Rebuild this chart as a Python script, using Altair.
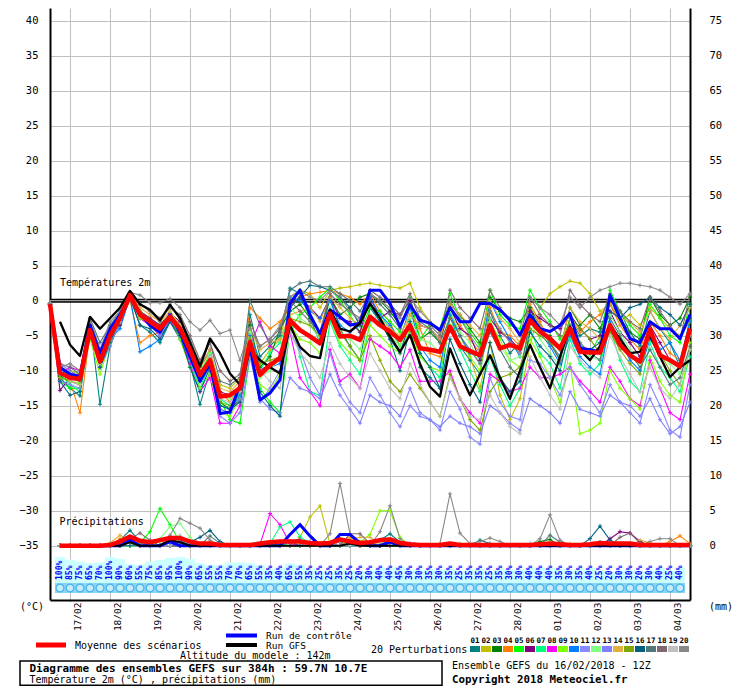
import altair as alt
import pandas as pd

FONT = "DejaVu Sans Mono"

# ---------------- axes / labels ----------------
STEP_H = 6
HOURS = [STEP_H * i for i in range(65)]           # 16/02 12Z .. +384h
DATE_LABELS = ["17/02", "18/02", "19/02", "20/02", "21/02", "22/02", "23/02", "24/02",
               "25/02", "26/02", "27/02", "28/02", "01/03", "02/03", "03/03", "04/03"]
DATE_TICKS = [12 + 24 * k for k in range(len(DATE_LABELS))]
TEMP_TICKS = list(range(-35, 45, 5))
PRECIP_TICKS = list(range(0, 80, 5))

MEMBER_IDS = ["%02d" % k for k in range(1, 21)]
MEMBER_COLORS = ["#008080", "#c0c000", "#008000", "#ff8000", "#00ff00", "#800080", "#00ff80",
                 "#ff00ff", "#80ff00", "#0080ff", "#8888ff", "#80ff80", "#8080ff", "#e0b040",
                 "#80a800", "#006080", "#507878", "#806870", "#c0c0c0", "#888888"]

# ---------------- temperatures (deg C) every 6h ----------------
MEAN_T = [-0.5, -10.3, -11.0, -11.2, -4.2, -8.7, -5.0, -2.5, 0.8, -2.0, -3.0, -4.0,
          -2.3, -4.0, -7.0, -10.6, -8.5, -13.7, -13.5, -12.5, -5.9, -10.6, -9.2, -8.2,
          -2.8, -4.2, -5.1, -6.1, -1.8, -5.1, -5.0, -5.6, -2.3, -3.5, -4.4, -5.6,
          -3.5, -6.8, -7.0, -7.3, -3.7, -6.5, -7.2, -7.8, -3.5, -6.8, -6.3, -6.8,
          -2.8, -4.4, -5.4, -6.8, -4.0, -7.3, -7.4, -7.4, -3.5, -6.3, -7.8, -8.7,
          -4.1, -7.8, -8.5, -9.4, -4.0]
CONTROL_T = [-0.5, -9.5, -10.5, -10.8, -3.5, -7.5, -4.0, -2.0, 0.5, -1.8, -3.5, -4.5,
             -2.0, -4.5, -8.0, -11.5, -9.0, -16.1, -15.9, -12.0, -6.5, -14.2, -13.2, -11.3,
             -0.4, 1.5, -2.0, -4.7, -1.3, -2.3, -3.5, -3.2, 1.5, 1.5, -0.4, -3.7,
             -0.6, -2.8, -3.2, -4.2, -1.0, -3.0, -3.0, -0.4, -0.4, -1.3, -2.8, -4.9,
             -2.0, -4.0, -4.4, -3.5, -1.8, -6.8, -7.0, -7.3, 0.8, -2.5, -5.4, -6.0,
             -3.0, -4.0, -4.0, -5.4, -2.0]
# GFS run is drawn from +6h
GFS_T = [-3.0, -6.3, -7.9, -2.3, -4.0, -2.5, -1.0, 1.4, -0.5, -1.3, -2.8, -0.6,
         -2.5, -6.0, -9.4, -5.4, -7.5, -10.4, -12.0, -7.0, -8.5, -9.5, -10.4, -3.5,
         -6.6, -7.9, -8.2, -1.3, -4.0, -4.4, -3.2, -0.4, -2.5, -5.1, -7.3, -4.9,
         -9.0, -12.3, -13.7, -6.8, -10.4, -13.5, -10.5, -7.8, -11.0, -14.0, -10.0, -6.3,
         -9.5, -12.5, -8.0, -3.7, -7.0, -8.5, -6.5, -3.5, -5.5, -7.5, -7.3, -5.0,
         -8.0, -10.9, -9.5, -8.5]

T01 = [-0.5, -11.0, -12.5, -13.6, -3.0, -14.8, -6.5, -3.0, 0.5, -3.5, -4.5, -6.0,
       -3.0, -5.5, -9.0, -14.8, -10.0, -15.5, -16.0, -13.0, -2.0, -8.0, -6.5, -5.0,
       1.8, 1.0, -2.5, -6.0, 0.5, -4.0, -6.5, -8.5, -1.0, -3.0, -5.5, -10.0,
       -4.0, -9.5, -11.0, -12.5, -2.0, -6.5, -8.5, -10.5, -1.5, -5.0, -7.5, -6.0,
       -1.0, -3.5, -6.0, -8.0, -2.5, -5.0, -4.0, -4.5, 0.5, -1.5, -4.5, -6.5,
       -1.5, -4.0, -6.0, -9.5, -2.5]
T02 = [-0.3, -9.5, -10.0, -10.5, -3.5, -7.5, -4.0, -2.0, 1.0, -1.5, -2.5, -3.5,
       -1.8, -3.5, -6.0, -9.5, -7.5, -12.0, -12.5, -11.0, -5.0, -9.0, -7.0, -5.5,
       0.5, 1.5, 1.0, -1.0, 1.5, 1.8, 2.0, 2.3, 2.5, 2.2, 2.0, 1.8,
       2.5, -1.0, -3.0, -4.5, -1.5, -5.0, -8.0, -12.5, -6.0, -13.5, -17.0, -14.0,
       -6.5, -1.0, 1.0, 2.0, 2.8, 2.5, 1.0, -1.5, -0.5, -3.0, -2.0, -3.5,
       -1.0, -2.5, -4.0, -5.0, -3.0]
T03 = [-0.6, -10.8, -11.5, -12.0, -3.8, -9.5, -5.5, -2.0, 0.8, -2.5, -3.5, -5.0,
       -2.0, -4.5, -8.0, -11.5, -8.0, -14.5, -15.5, -14.0, -3.5, -9.5, -8.0, -4.0,
       -1.5, -0.5, -2.5, -4.5, 0.5, -2.0, -1.0, 0.5, 1.0, 0.0, -1.5, -3.5,
       -0.5, -5.5, -4.5, -6.0, -0.5, -2.0, -4.0, -6.0, 0.5, -1.5, -2.5, -3.0,
       -1.0, -4.5, -5.0, -7.0, -1.0, -3.5, -2.0, -4.0, -0.5, -2.5, -4.5, -5.5,
       0.5, -2.0, -3.5, -2.5, 0.5]
T04 = [-0.4, -10.0, -11.5, -16.0, -4.5, -9.0, -6.0, -3.0, 0.0, -6.0, -5.0, -4.5,
       -2.5, -3.5, -6.5, -11.0, -9.5, -13.0, -14.5, -12.0, -1.0, -2.5, -4.0, -3.0,
       -1.0, 0.5, 1.0, 1.2, 1.5, 1.0, 0.5, -0.5, 1.0, -1.5, -3.0, -6.5,
       -2.0, -4.0, -7.5, -8.0, -2.5, -3.5, -5.5, -7.5, -1.0, -4.5, -5.0, -6.5,
       -0.5, -3.0, -6.0, -8.5, -2.5, -4.5, -3.0, -2.0, -0.5, -3.5, -5.5, -7.0,
       -3.0, -5.0, -7.5, -8.5, -4.5]
T05 = [-0.5, -11.5, -12.5, -12.5, -4.0, -8.0, -5.5, -3.5, 0.5, -2.0, -3.5, -4.5,
       -2.5, -3.5, -7.0, -10.5, -7.5, -14.0, -17.0, -17.5, -8.0, -12.5, -14.5, -16.0,
       -4.0, -2.0, -1.0, 0.5, 1.8, 0.0, -2.0, -4.5, -1.0, -1.5, -3.0, -4.5,
       0.5, -5.5, -3.5, -4.0, 1.0, -2.5, -4.5, -6.5, 1.5, -2.0, -3.5, -4.0,
       1.5, -1.0, -3.0, -5.5, -3.5, -7.0, -7.5, -5.0, 1.5, -1.5, -3.5, -5.0,
       -0.5, -2.5, -5.0, -6.0, -0.5]
T06 = [-0.7, -12.8, -11.0, -11.5, -3.5, -7.5, -5.0, -3.5, 0.5, -1.5, -2.5, -3.5,
       -1.8, -3.0, -6.0, -9.5, -7.0, -13.0, -13.5, -12.5, -6.0, -10.0, -9.0, -8.5,
       -0.5, 0.5, -1.0, -2.5, 0.5, -2.5, -3.0, -4.5, 0.5, -2.5, -1.5, -2.0,
       0.0, -3.5, -4.0, -5.5, -1.0, -4.0, -5.0, -8.5, -2.5, -4.5, -5.5, -7.0,
       -1.5, -2.5, -3.5, -4.0, -2.0, -4.0, -5.5, -5.0, -1.5, -4.5, -6.0, -8.0,
       -3.5, -6.0, -8.5, -9.5, -5.0]
T07 = [-0.4, -10.5, -12.0, -13.0, -5.0, -9.0, -6.0, -2.5, 1.2, -2.0, -3.5, -4.5,
       -2.5, -5.0, -8.5, -12.5, -9.0, -14.0, -15.0, -13.5, -5.5, -10.0, -7.5, -6.0,
       -2.0, -8.0, -13.0, -13.5, -3.0, -6.5, -8.5, -10.5, -3.0, -2.0, -4.0, -6.5,
       -3.0, -7.5, -9.5, -11.0, -2.0, -7.0, -10.0, -13.0, -8.0, -12.0, -15.0, -12.5,
       -4.0, -7.5, -9.0, -12.5, -5.5, -9.0, -10.5, -9.0, -4.0, -8.5, -11.5, -13.0,
       -6.0, -9.5, -11.0, -13.0, -8.0]
T08 = [-0.5, -10.5, -9.5, -10.0, -3.5, -7.0, -5.5, -3.0, 0.5, -2.5, -3.5, -5.0,
       -3.0, -4.5, -9.0, -13.0, -11.0, -17.5, -17.5, -15.0, -6.5, -3.0, -6.5, -7.5,
       -4.5, -11.0, -13.0, -15.0, -7.0, -11.5, -10.5, -12.5, -5.5, -6.5, -7.5, -9.5,
       -7.0, -11.5, -11.5, -11.5, -10.0, -14.0, -16.0, -17.5, -10.5, -11.5, -13.0, -12.5,
       -9.5, -11.0, -11.0, -10.5, -9.5, -11.5, -13.0, -14.5, -9.5, -11.5, -14.0, -15.0,
       -8.5, -12.5, -16.0, -17.0, -10.5]
T09 = [-0.6, -11.0, -11.5, -11.8, -5.5, -10.5, -6.0, -2.0, 0.5, -2.5, -3.0, -4.0,
       -2.0, -5.5, -9.5, -12.5, -10.5, -16.0, -16.5, -14.0, -7.5, -12.0, -13.0, -10.5,
       -3.5, -5.5, -6.0, -7.5, -2.5, -6.0, -7.5, -8.5, -3.5, -5.0, -6.5, -7.5,
       -4.0, -8.0, -9.5, -10.0, -3.5, -6.0, -8.0, -10.0, -3.0, -5.5, -8.5, -9.5,
       -5.5, -8.0, -11.0, -14.5, -9.0, -19.0, -18.5, -17.5, -10.0, -12.5, -14.0, -15.5,
       -8.0, -11.5, -13.5, -14.5, -6.0]
T10 = [-0.5, -10.0, -10.5, -11.0, -4.5, -8.5, -5.5, -4.0, 0.5, -7.3, -6.5, -5.5,
       -2.5, -4.0, -8.0, -11.5, -8.5, -15.0, -15.5, -13.5, -5.0, -8.5, -9.5, -9.0,
       0.5, 0.0, -1.5, -2.5, 0.0, -3.5, -4.5, -3.5, 0.5, -2.0, -3.5, -5.5,
       -1.0, -6.5, -8.5, -9.5, -2.0, -5.0, -7.5, -8.0, 0.0, -3.0, -5.5, -8.0,
       -2.0, -4.5, -6.5, -9.0, -5.0, -8.0, -9.5, -10.5, -3.0, -5.5, -8.5, -10.0,
       -5.5, -7.0, -6.0, -8.5, -3.0]
T11 = [-0.4, -11.5, -12.0, -12.5, -4.0, -9.5, -6.5, -3.0, 0.5, -2.0, -3.5, -5.0,
       -2.5, -4.0, -7.5, -11.5, -8.0, -16.5, -17.5, -16.0, -8.0, -14.5, -12.5, -10.0,
       -4.5, -7.0, -11.0, -13.5, -7.5, -12.0, -14.5, -16.0, -11.0, -13.5, -16.0, -18.0,
       -15.0, -16.5, -17.0, -18.5, -13.0, -15.5, -19.5, -20.5, -11.0, -14.5, -16.5, -17.0,
       -8.5, -9.0, -11.0, -13.5, -9.5, -12.0, -14.0, -16.0, -12.0, -14.5, -16.0, -17.5,
       -12.0, -15.0, -18.5, -19.5, -12.0]
T12 = [-0.5, -10.0, -10.8, -11.0, -4.0, -9.0, -5.0, -2.5, 1.0, -1.5, -3.0, -4.0,
       -1.5, -3.5, -6.5, -10.0, -7.5, -13.5, -14.0, -12.5, -4.5, -11.0, -10.0, -8.0,
       -1.0, -2.5, -3.5, -5.5, -1.0, -4.5, -5.5, -7.0, -2.0, -3.5, -5.0, -6.5,
       -2.5, -5.5, -6.0, -7.5, -1.5, -4.5, -6.0, -9.0, -2.5, -6.5, -8.5, -8.0,
       -3.0, -5.5, -7.5, -9.5, -3.5, -6.5, -8.0, -8.5, -2.0, -4.5, -7.0, -9.0,
       -4.5, -7.5, -9.0, -10.5, -5.0]
T13 = [-0.6, -9.0, -10.0, -11.0, -4.5, -8.0, -5.0, -3.0, 0.5, -2.0, -3.0, -4.5,
       -2.5, -4.0, -7.5, -11.0, -8.5, -15.5, -16.0, -14.0, -7.0, -14.0, -15.5, -16.0,
       -11.0, -12.5, -13.0, -14.0, -10.5, -13.5, -15.5, -17.5, -13.5, -14.5, -15.0, -16.5,
       -12.5, -16.0, -17.0, -18.0, -16.5, -17.5, -18.0, -19.0, -15.0, -16.0, -17.5, -18.5,
       -14.0, -15.0, -16.0, -17.5, -13.0, -15.5, -16.0, -16.5, -13.5, -14.5, -15.0, -16.5,
       -14.0, -17.0, -19.0, -18.0, -14.5]
T14 = [-0.5, -10.5, -11.0, -11.5, -3.0, -8.0, -4.5, -2.5, 1.0, -1.0, -2.0, -3.0,
       -1.5, -3.5, -6.5, -9.5, -7.0, -12.5, -13.0, -11.5, -4.0, -7.0, -6.0, -5.5,
       -2.0, -1.5, -1.0, -3.0, 0.5, -1.0, -2.5, -3.5, -0.5, -2.5, -4.0, -5.0,
       -2.0, -3.5, -4.0, -5.5, -0.5, -2.0, -3.5, -5.0, 0.0, -2.5, -4.0, -6.0,
       -0.5, -3.5, -5.5, -7.0, -1.0, -3.0, -4.0, -5.5, -0.5, -2.5, -3.0, -4.5,
       -1.5, -4.0, -5.5, -3.5, -1.0]
T15 = [-0.5, -11.0, -11.5, -12.0, -4.5, -8.5, -5.5, -3.0, 0.8, -1.5, -3.0, -4.0,
       -2.0, -4.0, -7.5, -11.0, -9.0, -14.5, -15.0, -13.0, -5.5, -9.0, -8.5, -8.0,
       -2.5, -3.0, -3.5, -5.0, -1.5, -4.5, -6.5, -8.5, -5.0, -8.5, -11.5, -13.0,
       -10.5, -12.5, -14.5, -16.5, -10.5, -14.0, -17.0, -18.5, -13.0, -11.0, -10.5, -9.5,
       -4.0, -5.0, -6.0, -7.0, -2.5, -4.0, -5.5, -7.5, -4.5, -7.0, -9.0, -10.5,
       -4.0, -7.5, -10.0, -12.0, -7.0]
T16 = [-0.5, -11.5, -13.5, -13.0, -3.5, -9.5, -6.0, -2.5, 0.5, -3.5, -4.0, -5.5,
       -3.0, -5.0, -9.5, -13.0, -9.5, -15.0, -15.5, -14.5, -7.0, -13.0, -15.0, -16.5,
       -1.0, 0.5, 2.2, 2.0, 1.5, 0.5, -1.0, -3.5, -0.5, -3.0, -5.5, -7.5,
       -3.0, -7.5, -9.5, -12.5, -5.5, -9.0, -12.0, -14.5, -6.0, -11.0, -13.0, -11.5,
       -4.5, -6.5, -8.0, -10.0, -4.0, -6.5, -7.0, -6.0, -1.5, -2.5, -1.0, -0.5,
       0.5, -1.0, -2.0, -3.5, -0.5]
T17 = [-0.3, -9.0, -9.5, -10.5, -2.5, -6.0, -3.5, -1.5, 1.0, -0.5, -1.5, -3.0,
       -0.5, -2.5, -5.5, -9.0, -6.0, -11.5, -12.0, -11.0, 0.0, -3.5, -6.0, -4.5,
       1.5, 2.5, 2.8, 2.0, 2.0, 1.0, 0.0, -1.5, 1.0, -0.5, -2.0, -4.0,
       -0.5, -3.0, -4.0, -6.0, -2.5, -5.0, -7.0, -9.0, -4.5, -7.0, -9.5, -11.0,
       -2.5, -4.0, -6.0, -8.5, -3.5, -6.0, -7.5, -8.5, -2.5, -5.0, -7.5, -9.5,
       -7.0, -9.5, -12.0, -11.0, -6.5]
T18 = [-0.5, -10.5, -11.0, -11.5, -3.0, -7.0, -4.5, -2.0, 1.2, -0.5, -1.5, -2.5,
       -1.0, -2.0, -5.0, -8.5, -6.0, -10.0, -11.5, -10.5, -3.0, -6.5, -5.5, -4.0,
       0.0, -1.5, -3.0, -4.5, 1.0, -0.5, -1.5, -2.5, 1.5, 0.5, -0.5, -2.0,
       1.0, -2.5, -3.5, -5.0, 1.5, -1.0, -2.5, -4.0, 1.5, -1.0, -3.0, -5.0,
       0.5, -2.0, -3.5, -5.0, 1.5, -0.5, -2.0, -3.0, 1.0, -1.5, -3.0, -4.0,
       0.5, -1.5, -3.5, -5.5, 1.0]
T19 = [-0.5, -10.0, -11.5, -12.0, -4.0, -8.0, -5.0, -3.0, 0.5, -2.0, -3.0, -4.0,
       -2.0, -4.0, -7.0, -10.5, -8.0, -14.0, -14.5, -13.0, -6.0, -10.0, -11.5, -12.5,
       -4.5, -7.5, -9.0, -11.0, -6.0, -9.0, -11.0, -12.5, -7.5, -10.0, -12.5, -14.0,
       -9.0, -12.0, -14.5, -16.5, -11.0, -14.0, -16.5, -17.0, -13.5, -16.0, -18.0, -19.0,
       -8.0, -11.0, -13.5, -15.5, -6.5, -8.5, -10.0, -11.0, -5.0, -8.0, -10.5, -13.0,
       -9.5, -12.5, -14.0, -12.0, -7.0]
T20 = [-0.4, -9.5, -9.0, -10.0, -2.5, -7.0, -3.0, -1.5, 1.2, 0.8, -0.3, -0.3,
       0.3, -1.0, -3.0, -4.2, -2.8, -4.7, -4.2, -8.5, -4.0, -6.5, -5.5, -3.5,
       0.5, 1.5, 0.5, 0.0, 1.5, 0.5, -1.5, -3.0, 1.0, 0.0, -1.0, -2.5,
       0.5, -1.5, -3.0, -4.5, 0.0, -2.5, -5.0, -7.0, -1.5, -4.0, -6.0, -7.5,
       0.5, -1.0, -2.0, -3.5, 0.5, -1.0, 0.5, 1.5, 2.0, 2.5, 2.5, 2.2,
       2.0, 1.5, 0.5, -0.5, 1.0]
MEMBER_T = [T01, T02, T03, T04, T05, T06, T07, T08, T09, T10,
            T11, T12, T13, T14, T15, T16, T17, T18, T19, T20]

# ---------------- precipitation (mm / 6h), from +6h ----------------
MEAN_P = [0, 0, 0, 0, 0, 0.1, 0.6, 1.3, 0.7, 0.5, 0.8, 1.1,
          1.1, 0.6, 0.3, 0.3, 0.1, 0.1, 0.1, 0.1, 0.3, 0.5, 0.6, 0.6,
          0.6, 0.4, 0.3, 0.4, 0.9, 0.6, 0.4, 0.5, 0.8, 0.9, 0.4, 0.2,
          0.1, 0.1, 0.1, 0.3, 0.1, 0.1, 0.1, 0.1, 0.1, 0.1, 0.1, 0.1,
          0.2, 0.3, 0.2, 0.1, 0.1, 0.2, 0.4, 0.3, 0.3, 0.3, 0.1, 0.1,
          0.1, 0.1, 0.1, 0.1]
# non-zero 6h amounts, keyed by step number (step 1 = +6h)
CONTROL_P = {8: 0.8, 12: 0.6, 24: 1.6, 25: 3.0, 26: 1.4, 29: 1.6, 30: 1.6, 31: 0.4, 34: 0.5}
GFS_P = {8: 0.5, 12: 0.8, 13: 0.5, 30: 0.3}
P01 = {7: 0.8, 8: 2.2, 9: 0.6, 12: 0.7, 13: 0.5, 24: 0.6, 33: 0.8, 34: 1.7, 35: 0.5, 43: 0.8, 44: 0.3, 55: 0.5}
P02 = {8: 1.0, 12: 0.5, 25: 1.2, 26: 4.1, 27: 5.7, 28: 0.2, 52: 0.3}
P03 = {8: 1.2, 9: 0.4, 13: 0.8, 22: 0.3, 30: 0.8, 31: 0.4, 49: 0.6, 50: 0.9}
P04 = {7: 1.0, 8: 0.8, 30: 1.2, 31: 0.5, 62: 0.6, 63: 1.4, 64: 0.3}
P05 = {9: 0.4, 10: 2.0, 11: 5.3, 12: 3.0, 13: 0.5, 23: 0.3, 33: 0.6}
P06 = {8: 0.9, 13: 0.6, 29: 0.6, 56: 1.0, 57: 2.0, 58: 1.8, 59: 0.6}
P07 = {22: 0.3, 23: 2.7, 24: 3.4, 25: 1.3, 26: 0.3, 41: 0.3}
P08 = {8: 0.8, 21: 0.2, 22: 4.6, 23: 3.0, 24: 0.3, 30: 0.3}
P09 = {11: 0.6, 12: 0.9, 31: 0.5, 32: 1.6, 33: 5.0, 34: 5.0, 35: 1.2}
P10 = {8: 0.7, 12: 0.4, 24: 0.6, 25: 0.9, 36: 0.3}
P11 = {8: 0.5, 13: 0.8, 14: 0.3, 28: 0.4}
P12 = {11: 1.0, 12: 2.7, 13: 3.2, 14: 1.2, 29: 0.7}
P13 = {9: 0.5, 26: 0.6, 48: 0.3}
P14 = {6: 0.4, 7: 1.5, 8: 0.6, 30: 1.0, 31: 1.2, 32: 1.2, 33: 0.4, 59: 0.8, 60: 0.4}
P15 = {8: 0.6, 12: 0.7, 29: 0.9, 30: 0.6, 55: 0.4}
P16 = {14: 0.5, 15: 1.2, 16: 2.2, 17: 0.6, 54: 1.0, 55: 2.8, 56: 0.8}
P17 = {8: 1.2, 16: 1.4, 17: 0.3, 34: 0.9, 50: 1.5, 51: 0.5}
P18 = {8: 1.0, 9: 1.8, 10: 0.8, 30: 1.7, 31: 1.7, 32: 0.3, 57: 1.2, 58: 1.8, 59: 0.4}
P19 = {8: 0.5, 13: 1.5, 14: 0.6, 33: 0.5, 62: 0.3}
P20 = {8: 0.8, 12: 1.5, 13: 3.9, 14: 3.2, 15: 2.5, 16: 0.8, 28: 1.7, 29: 8.9, 30: 1.7,
       33: 2.0, 34: 5.7, 35: 1.0, 39: 0.3, 40: 7.4, 41: 1.8, 42: 0.3, 43: 0.6, 44: 1.1,
       45: 0.6, 49: 1.0, 50: 4.4, 51: 0.8, 60: 0.6, 61: 1.0, 62: 1.0}
MEMBER_P = [P01, P02, P03, P04, P05, P06, P07, P08, P09, P10,
            P11, P12, P13, P14, P15, P16, P17, P18, P19, P20]

# ---------------- percentage row (steps 1..63) ----------------
PCT = [100, 85, 75, 65, 70, 100, 90, 60, 55, 75, 85, 95,
       100, 90, 65, 55, 55, 70, 70, 65, 55, 35, 40, 65,
       55, 35, 25, 25, 35, 25, 20, 30, 40, 40, 45, 30,
       30, 35, 30, 35, 25, 35, 35, 25, 35, 30, 30, 40,
       40, 40, 35, 30, 35, 40, 25, 20, 30, 30, 20, 30,
       40, 25, 40]

for arr in MEMBER_T + [MEAN_T, CONTROL_T]:
    assert len(arr) == 65, len(arr)
assert len(GFS_T) == 64 and len(MEAN_P) == 64 and len(PCT) == 63

# ---------------- tables ----------------
t_rows = []
for mid, vals in zip(MEMBER_IDS, MEMBER_T):
    for h, v in zip(HOURS, vals):
        t_rows.append({"hour": h, "temp": v, "member": mid})
df_members_t = pd.DataFrame(t_rows)
df_mean_t = pd.DataFrame({"hour": HOURS, "temp": MEAN_T})
df_ctrl_t = pd.DataFrame({"hour": HOURS, "temp": CONTROL_T})
df_gfs_t = pd.DataFrame({"hour": HOURS[1:], "temp": GFS_T})

p_rows = []
for mid, d in zip(MEMBER_IDS, MEMBER_P):
    for i in range(1, 65):
        p_rows.append({"hour": HOURS[i], "mm": d.get(i, 0.0), "member": mid})
df_members_p = pd.DataFrame(p_rows)
df_mean_p = pd.DataFrame({"hour": HOURS[1:], "mm": MEAN_P})
df_ctrl_p = pd.DataFrame({"hour": HOURS[1:], "mm": [CONTROL_P.get(i, 0.0) for i in range(1, 65)]})
df_gfs_p = pd.DataFrame({"hour": HOURS[1:], "mm": [GFS_P.get(i, 0.0) for i in range(1, 65)]})

df_pct = pd.DataFrame({"hour": HOURS[1:64], "pct": PCT, "label": ["%d%%" % p for p in PCT]})
df_band = pd.DataFrame({"start": [df_pct.hour.min() - 3], "end": [df_pct.hour.max() + 3]})
ONE = pd.DataFrame({"k": [0]})

# ---------------- scales & axes ----------------
XS = alt.Scale(domain=[0, 384], nice=False, zero=False)
YT = alt.Scale(domain=[-42.757, 41.814], nice=False, zero=False)
YP = alt.Scale(domain=[-7.757, 76.814], nice=False, zero=False)

date_expr = "[" + ",".join("'%s'" % d for d in DATE_LABELS) + "][round((datum.value-12)/24)]"
XAX = alt.Axis(values=DATE_TICKS, labelExpr=date_expr, labelAngle=270, labelAlign="right",
               labelBaseline="middle", labelOffset=7, labelPadding=0, grid=True,
               gridColor="#c0c0c0", gridWidth=1, ticks=True, tickColor="#c0c0c0", tickSize=2,
               domain=True, domainColor="black", domainWidth=2, labelFont=FONT,
               labelFontSize=9.5, labelColor="black", title=None, labelOverlap=False,
               labelFlush=False)
YTAX = alt.Axis(orient="left", values=TEMP_TICKS, grid=True, gridColor="#c0c0c0", gridWidth=1,
                ticks=False, domain=True, domainColor="black", domainWidth=2, labelPadding=12,
                labelFont=FONT, labelFontSize=10.5, labelColor="black", title=None)
YPAX = alt.Axis(orient="right", values=PRECIP_TICKS, grid=False, ticks=False, domain=True,
                domainColor="black", domainWidth=2, labelPadding=19, labelAlign="left",
                labelFont=FONT, labelFontSize=10.5, labelColor="black", title=None)

X = alt.X("hour:Q", scale=XS, axis=XAX)
Y_T = alt.Y("temp:Q", scale=YT, axis=YTAX)
Y_P = alt.Y("mm:Q", scale=YP, axis=YPAX)
COL = alt.Color("member:N", scale=alt.Scale(domain=MEMBER_IDS, range=MEMBER_COLORS), legend=None)
PLUS = "M-1,0L1,0M0,-1L0,1"


def label(txt, x, y, size=10, bold=False, align="left", color="black"):
    return alt.Chart(ONE).mark_text(
        text=txt, align=align, baseline="middle", font=FONT, fontSize=size,
        fontWeight="bold" if bold else "normal", color=color
    ).encode(x=alt.value(x), y=alt.value(y))


def hline(x1, x2, y, color, w):
    return alt.Chart(ONE).mark_rule(color=color, strokeWidth=w).encode(
        x=alt.value(x1), x2=alt.value(x2), y=alt.value(y))


# ---------------- temperature group ----------------
zero_df = pd.DataFrame({"temp": [0.0]})
temp_layers = [
    alt.Chart(zero_df).mark_rule(color="black", strokeWidth=4).encode(y=Y_T),
    alt.Chart(zero_df).mark_rule(color="#a0a0a0", strokeWidth=1.2).encode(y=Y_T),
    alt.Chart(df_members_t).mark_line(strokeWidth=1.1).encode(x=X, y=Y_T, color=COL, detail="member:N"),
    alt.Chart(df_members_t).mark_point(shape=PLUS, size=18, filled=False, strokeWidth=1, opacity=1)
        .encode(x=X, y=Y_T, color=COL),
    alt.Chart(df_ctrl_t).mark_line(color="#0000ff", strokeWidth=3, strokeJoin="round").encode(x=X, y=Y_T),
    alt.Chart(df_gfs_t).mark_line(color="black", strokeWidth=2.3, strokeJoin="round").encode(x=X, y=Y_T),
    alt.Chart(df_mean_t).mark_line(color="#ff0000", strokeWidth=4.5, strokeJoin="round").encode(x=X, y=Y_T),
    label("Températures 2m", 10, 275),
    label("Précipitations", 9.5, 514),
    label("(°C)", -30, 599),
    label("(mm)", 659, 599),
    # legend
    hline(-14, 16, 637, "#ff0000", 5),
    label("Moyenne des scénarios", 25, 637.5),
    hline(176, 207, 627.5, "#0000ff", 4),
    label("Run de contrôle", 216, 628, size=9.5),
    hline(176, 207, 637, "black", 4),
    label("Run GFS", 216, 637.5, size=9.5),
    label("Altitude du modele : 142m", 130, 647.5),
    label("20 Perturbations", 321, 642),
    alt.Chart(ONE).mark_rect(fill="white", fillOpacity=0, stroke="black", strokeWidth=1.5).encode(
        x=alt.value(-30), x2=alt.value(392), y=alt.value(653), y2=alt.value(677.3)),
    label("Diagramme des ensembles GEFS sur 384h : 59.7N 10.7E", -20.5, 660.5, size=11, bold=True),
    label("Température 2m (°C) , précipitations (mm)", -20.5, 671.5, size=10),
    label("Ensemble GEFS du 16/02/2018 - 12Z", 402, 658, size=10),
    label("Copyright 2018 Meteociel.fr", 402, 672, size=10.8, bold=True),
]
for k, (mid, c) in enumerate(zip(MEMBER_IDS, MEMBER_COLORS)):
    temp_layers.append(alt.Chart(ONE).mark_rect(color=c).encode(
        x=alt.value(420 + 11 * k), x2=alt.value(430 + 11 * k), y=alt.value(638), y2=alt.value(644)))
    temp_layers.append(label(mid, 425 + 11 * k, 633, size=7.5, bold=True, align="center"))

temp_group = alt.layer(*temp_layers)

# ---------------- precipitation group ----------------
precip_group = alt.layer(
    alt.Chart(df_members_p).mark_line(strokeWidth=1.1).encode(x=X, y=Y_P, color=COL, detail="member:N"),
    alt.Chart(df_members_p).mark_point(shape=PLUS, size=18, filled=False, strokeWidth=1, opacity=1)
        .encode(x=X, y=Y_P, color=COL),
    alt.Chart(df_ctrl_p).mark_line(color="#0000ff", strokeWidth=3).encode(x=X, y=Y_P),
    alt.Chart(df_gfs_p).mark_line(color="black", strokeWidth=2).encode(x=X, y=Y_P),
    alt.Chart(df_mean_p).mark_line(color="#ff0000", strokeWidth=4.5, strokeJoin="round").encode(x=X, y=Y_P),
)

# ---------------- percentage / symbol row ----------------
pct_group = alt.layer(
    alt.Chart(df_pct).transform_calculate(x0="datum.hour - 3", x1="datum.hour + 3")
        .mark_rect(color="#ccffff").encode(
            x=alt.X("x0:Q", scale=XS, axis=XAX), x2="x1:Q",
            y=alt.Y("pct:Q", scale=alt.Scale(domain=[0, 100], range=[567, 549]), axis=None),
            y2=alt.value(575)),
    alt.Chart(df_band).mark_rect(color="#8cd5f5").encode(
        x=alt.X("start:Q", scale=XS, axis=XAX), x2="end:Q", y=alt.value(575), y2=alt.value(585)),
    alt.Chart(df_pct).mark_point(shape="circle", size=60, filled=True, fill="#c4ecfc",
                                 stroke="#45b3ea", strokeWidth=1.2, opacity=1).encode(
        x=X, y=alt.value(580)),
    alt.Chart(df_pct).mark_text(angle=270, align="left", baseline="middle", font=FONT,
                                fontSize=8, fontWeight="bold", color="#0000ff").encode(
        x=X, y=alt.value(572), text="label:N"),
)

chart = alt.layer(temp_group, precip_group, pct_group).resolve_scale(
    y="independent"
).properties(
    width=640, height=592,
    autosize=alt.AutoSizeParams(type="none"),
    padding={"left": 42, "top": 0, "right": 42, "bottom": 86},
    background="white",
).configure_view(stroke=None)

chart.save("out.html", embed_options={"renderer": "svg", "actions": False})
